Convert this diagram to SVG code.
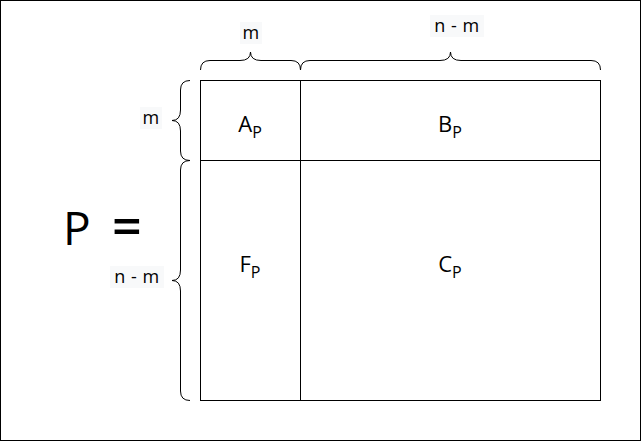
<svg xmlns="http://www.w3.org/2000/svg" width="641" height="441" viewBox="0 0 641 441">
<style>
.cell{fill:#fff;stroke:#000;stroke-width:1}
.brace{fill:none;stroke:#000;stroke-width:1}
.lbl{font-family:"Open Sans","Noto Sans",sans-serif;font-size:18px;letter-spacing:0.5px;fill:#000;text-anchor:middle}
.lblbg{fill:#f8f9fa}
.big{font-family:"Open Sans","Noto Sans",sans-serif;font-size:22px;fill:#000;text-anchor:middle}
.sub{font-size:16px}
</style>
<rect x="0.5" y="0.5" width="640" height="440" fill="#fff" stroke="#000"/>
<g id="P-eq"><text y="245" font-family="'Open Sans','Noto Sans',sans-serif" font-size="46"><tspan x="63">P</tspan><tspan x="112" font-size="52" font-weight="600">=</tspan></text></g>
<g id="A"><rect class="cell" x="200.5" y="80.5" width="100" height="80"/><text class="big" x="250" y="132">A<tspan class="sub" dy="6">P</tspan></text></g>
<g id="B"><rect class="cell" x="300.5" y="80.5" width="300" height="80"/><text class="big" x="450" y="132">B<tspan class="sub" dy="6">P</tspan></text></g>
<g id="F"><rect class="cell" x="200.5" y="160.5" width="100" height="240"/><text class="big" x="250" y="272">F<tspan class="sub" dy="6">P</tspan></text></g>
<g id="C"><rect class="cell" x="300.5" y="160.5" width="300" height="240"/><text class="big" x="450" y="272">C<tspan class="sub" dy="6">P</tspan></text></g>
<g id="connectors">
<path class="brace" d="M200.5,70 Q200.5,60.5 210,60.5 L240,60.5 Q250.5,60.5 250.5,52 Q250.5,60.5 261,60.5 L291,60.5 Q300.5,60.5 300.5,70"/>
<path class="brace" d="M300.5,70 Q300.5,60.5 310,60.5 L440,60.5 Q450.5,60.5 450.5,52 Q450.5,60.5 461,60.5 L591,60.5 Q600.5,60.5 600.5,70"/>
<path class="brace" d="M190,80.5 Q180.5,80.5 180.5,90 L180.5,110 Q180.5,120.5 172,120.5 Q180.5,120.5 180.5,131 L180.5,151 Q180.5,160.5 190,160.5"/>
<path class="brace" d="M190,160.5 Q180.5,160.5 180.5,170 L180.5,270 Q180.5,280.5 172,280.5 Q180.5,280.5 180.5,291 L180.5,391 Q180.5,400.5 190,400.5"/>
</g>
<g id="label-m-top"><rect class="lblbg" x="240" y="22" width="22" height="22"/><text class="lbl" x="251" y="39">m</text></g>
<g id="label-nm-top"><rect class="lblbg" x="430" y="15" width="54" height="22"/><text class="lbl" x="457" y="32">n - m</text></g>
<g id="label-m-left"><rect class="lblbg" x="140" y="107" width="22" height="22"/><text class="lbl" x="151" y="124">m</text></g>
<g id="label-nm-left"><rect class="lblbg" x="110" y="266" width="54" height="22"/><text class="lbl" x="137" y="283">n - m</text></g>
</svg>
